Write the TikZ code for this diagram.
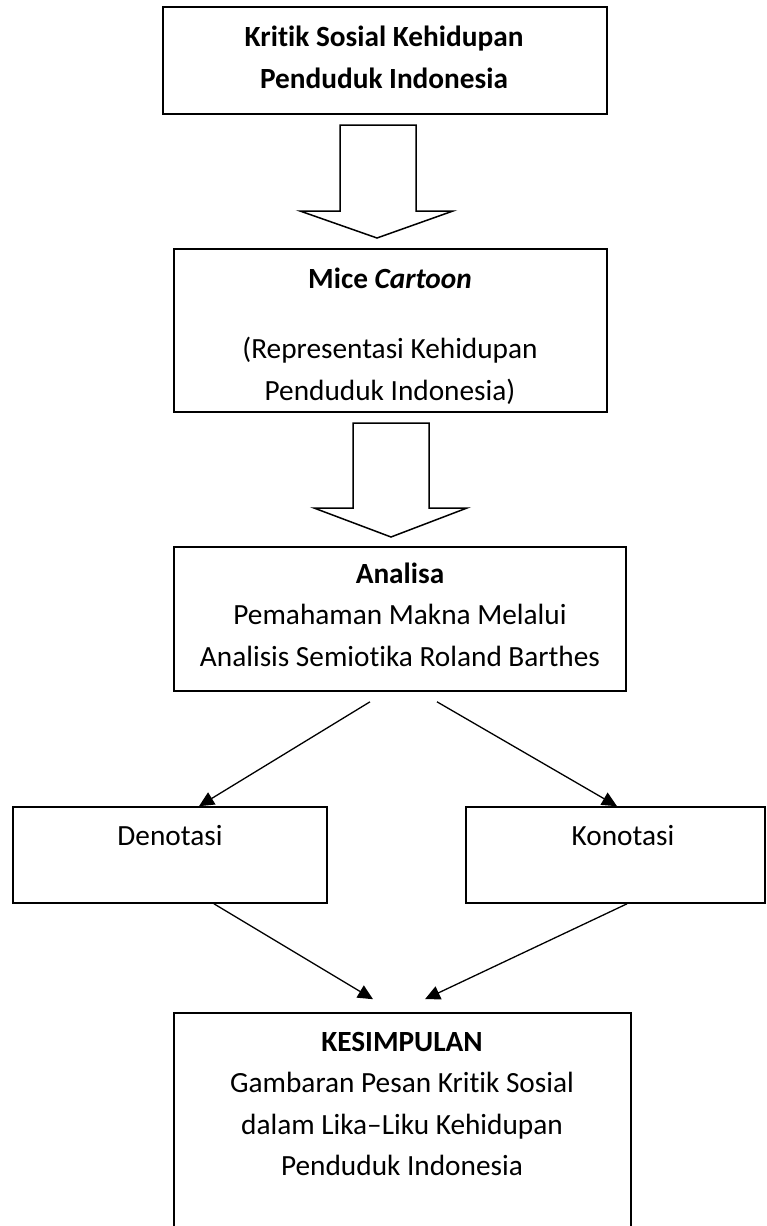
\documentclass[tikz,border=0pt]{standalone}
\usepackage{fontspec}
\setmainfont{Carlito}[Ligatures=NoCommon]
\usetikzlibrary{arrows.meta}

\begin{document}
\begin{tikzpicture}[x=1pt,y=-1pt,
		box/.style={draw, line width=1.6pt, inner sep=0pt},
		txt/.style={align=center, anchor=base, inner sep=0pt, font=\fontsize{29.3}{41.5}\selectfont},
		txtb/.style={txt, font=\fontsize{29.3}{41.5}\selectfont\bfseries},
		blok/.style={draw, line width=1.5pt, line join=miter},
		tip/.style={-{Triangle[length=15pt,width=14pt]}, line width=1.3pt}]
		\useasboundingbox (0,0) rectangle (766,1226);
		% boxes
		\node[box, minimum width=444pt, minimum height=107pt] (kritik) at (385,60.5) {};
		\node[box, minimum width=433pt, minimum height=163pt] (mice) at (390.5,330.5) {};
		\node[box, minimum width=452pt, minimum height=144pt] (analisa) at (400,619) {};
		\node[box, minimum width=314pt, minimum height=96pt] (denotasi) at (170,855) {};
		\node[box, minimum width=299pt, minimum height=96pt] (konotasi) at (615.5,855) {};
		\node[box, minimum width=457pt, minimum height=222pt] (kesimpulan) at (402.5,1124) {};
		% texts (base = last line)
		\node[txtb] (t-kritik) at (384,88) {Kritik Sosial Kehidupan\\ Penduduk Indonesia};
		\node[txt] (t-mice) at (390,400) {\textbf{Mice \textit{Cartoon}}\\[28.5pt] (Representasi Kehidupan\\ Penduduk Indonesia)};
		\node[txt] (t-analisa) at (400,666) {\textbf{Analisa}\\ Pemahaman Makna Melalui\\ Analisis Semiotika Roland Barthes};
		\node[txt] (t-denotasi) at (170,845) {Denotasi};
		\node[txt] (t-konotasi) at (623,845) {Konotasi};
		\node[txt] (t-kesimpulan) at (402,1175.5) {\textbf{KESIMPULAN}\\ Gambaran Pesan Kritik Sosial\\ dalam Lika–Liku Kehidupan\\ Penduduk Indonesia};
		% block arrows
		\draw[blok] (340,125) -- (416,125) -- (416,211) -- (453,211) -- (377,238) -- (300,211) -- (340,211) -- cycle;
		\draw[blok] (353,423) -- (429,423) -- (429,508) -- (467,508) -- (391,537) -- (314,508) -- (353,508) -- cycle;
		% connectors
		\path[tip]
		([xshift=-30pt,yshift=-10pt]analisa.south) edge ([xshift=29pt]denotasi.north)
		([xshift=37pt,yshift=-10pt]analisa.south) edge ([xshift=1.5pt]konotasi.north)
		([xshift=44pt]denotasi.south) edge ([xshift=-29.5pt,yshift=13pt]kesimpulan.north)
		([xshift=11.5pt]konotasi.south) edge ([xshift=22.5pt,yshift=13pt]kesimpulan.north);
	\end{tikzpicture}
\end{document}
